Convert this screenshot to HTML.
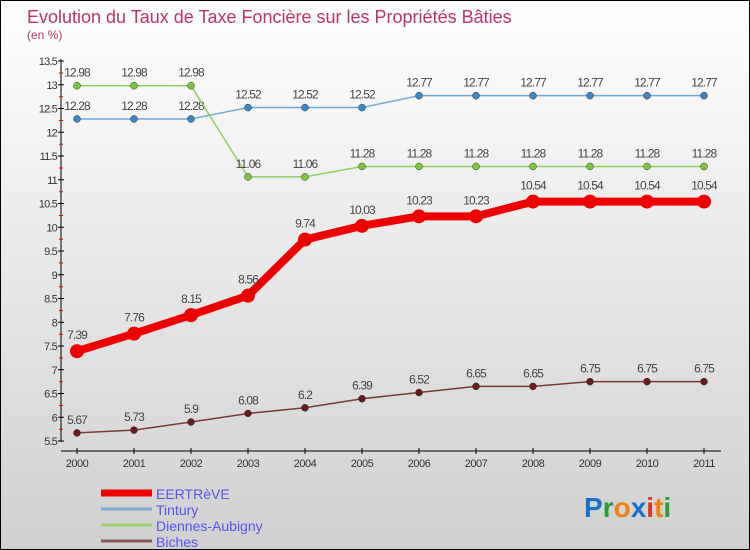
<!DOCTYPE html>
<html><head><meta charset="utf-8"><style>
body{margin:0}
#c{position:relative;width:748px;height:548px;border:1px solid #000;background:linear-gradient(#fff,#d0d0d0);font-family:"Liberation Sans",sans-serif;overflow:hidden}
</style></head><body>
<div id="c">
<svg id="s" width="748" height="548" style="position:absolute;left:0;top:0">
<text x="26" y="22" font-size="18" fill="#c0336a">Evolution du Taux de Taxe Foncière sur les Propriétés Bâties</text>
<text x="26" y="38" font-size="12" fill="#c0336a">(en %)</text>
<g id="axes"></g><g id="series"></g><g id="legend"></g>
<g font-size="28" font-weight="bold" font-family="'Liberation Sans',sans-serif">
<text x="583" y="516"><tspan fill="#1a6fc8">P</tspan><tspan fill="#2a9a3a">r</tspan><tspan fill="#f08010">o</tspan><tspan fill="#1a6fc8">x</tspan><tspan fill="#e03020">i</tspan><tspan fill="#f08010">t</tspan><tspan fill="#2a9a3a">i</tspan></text></g>
</svg></div>
<script>
const years=[2000,2001,2002,2003,2004,2005,2006,2007,2008,2009,2010,2011];
const yTicks=[5.5,6,6.5,7,7.5,8,8.5,9,9.5,10,10.5,11,11.5,12,12.5,13,13.5];
const eertreve=[7.39,7.76,8.15,8.56,9.74,10.03,10.23,10.23,10.54,10.54,10.54,10.54];
const tintury=[12.28,12.28,12.28,12.52,12.52,12.52,12.77,12.77,12.77,12.77,12.77,12.77];
const diennes=[12.98,12.98,12.98,11.06,11.06,11.28,11.28,11.28,11.28,11.28,11.28,11.28];
const biches=[5.67,5.73,5.9,6.08,6.2,6.39,6.52,6.65,6.65,6.75,6.75,6.75];
const NS="http://www.w3.org/2000/svg";
const X=i=>76+i*57, Y=v=>440-(v-5.5)*47.5;
function mk(t,a,p){const e=document.createElementNS(NS,t);for(const k in a)e.setAttribute(k,a[k]);p.appendChild(e);return e;}
const ax=document.getElementById('axes');
let yl=mk('line',{x1:60,y1:58,x2:60,y2:441,stroke:'#000'},ax);

yTicks.forEach(v=>{mk('line',{x1:57,x2:63,y1:Y(v),y2:Y(v),stroke:'#000'},ax);
mk('line',{x1:58,x2:62,y1:Y(v)+12,y2:Y(v)+12,stroke:v>5.5?'#e00':'none'},ax);
const t=mk('text',{x:56,y:Y(v)+4,'text-anchor':'end','font-size':11,fill:'#333','letter-spacing':'-0.8'},ax);t.textContent=v;
});
let xl=mk('line',{x1:60,y1:450,x2:720,y2:450,stroke:'#000'},ax);

years.forEach((y,i)=>{mk('line',{x1:X(i),x2:X(i),y1:447,y2:453,stroke:'#000'},ax);
const t=mk('text',{x:X(i),y:466,'text-anchor':'middle','font-size':11,fill:'#333','letter-spacing':'-0.5'},ax);t.textContent=y;
});
const sg=document.getElementById('series');
function draw(name,data,col,w,r,dot,off){const g=mk('g',{},sg);

mk('polyline',{points:data.map((v,i)=>X(i)+','+Y(v)).join(' '),fill:'none',stroke:col,'stroke-width':w,'stroke-linejoin':'round'},g);
data.forEach((v,i)=>{const c=mk('circle',{cx:X(i),cy:Y(v),r:r,fill:dot,stroke:w>3?'none':'#333','stroke-width':0.5},g);

const t=mk('text',{x:X(i),y:Y(v)-off,'text-anchor':'middle','font-size':12,fill:'#444','letter-spacing':'-0.9'},g);t.textContent=v;
});}
draw('tintury',tintury,'#6fa6d6',1.5,3.5,'#3a86c8',9);
draw('diennes-aubigny',diennes,'#8fd060',1.5,3.5,'#77c83a',9);
draw('biches',biches,'#7a3a3a',1.5,3.5,'#6a1a1a',9);
draw('eertreve',eertreve,'#ee0000',8,7,'#ee0000',12);
const lg=document.getElementById('legend');
[['EERTRèVE','#ee0000',7],['Tintury','#7aaad0',3],['Diennes-Aubigny','#9bd070',3],['Biches','#8a5a5a',3]].forEach((d,i)=>{
const y=492+i*16;const g=mk('g',{},lg);
mk('line',{x1:100,x2:151,y1:y,y2:y,stroke:d[1],'stroke-width':d[2]},g);
const t=mk('text',{x:155,y:y+6,'font-size':14,fill:'#5555ee'},g);t.textContent=d[0];});
</script>
</body></html>
